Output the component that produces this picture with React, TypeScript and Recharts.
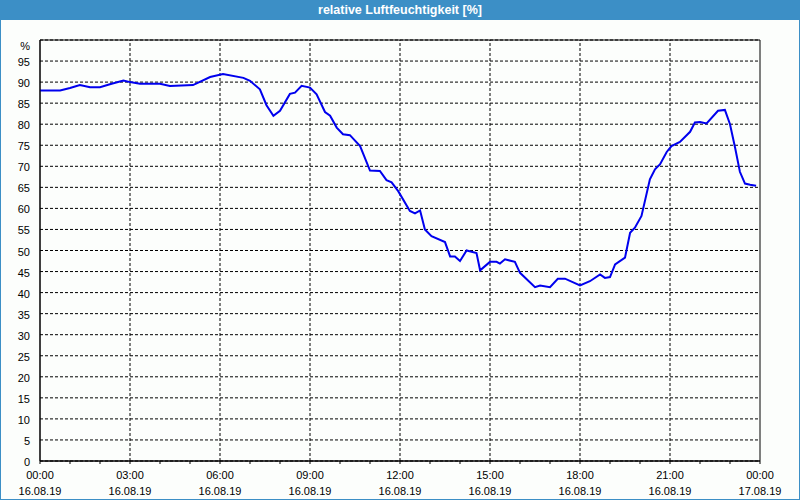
import React from "react";
import { LineChart, Line, XAxis, YAxis, CartesianGrid, ReferenceLine, ReferenceArea } from "recharts";

const title = "relative Luftfeuchtigkeit [%]";
const hours = [0, 0.67, 1.0, 1.33, 1.67, 2.0, 2.33, 2.78, 3.0, 3.33, 4.0, 4.33, 5.1, 5.67, 6.1, 6.78, 7.0, 7.33, 7.55, 7.78, 8.0, 8.33, 8.5, 8.72, 9.0, 9.22, 9.5, 9.67, 9.89, 10.1, 10.33, 10.67, 11.0, 11.33, 11.55, 11.72, 11.94, 12.33, 12.5, 12.67, 12.83, 13.05, 13.5, 13.67, 13.83, 14.0, 14.22, 14.55, 14.67, 15.0, 15.22, 15.33, 15.5, 15.83, 16.0, 16.5, 16.67, 17.0, 17.26, 17.5, 18.0, 18.33, 18.67, 18.83, 19.0, 19.17, 19.5, 19.67, 19.83, 20.05, 20.33, 20.5, 20.67, 20.89, 21.05, 21.33, 21.67, 21.83, 22.0, 22.22, 22.6, 22.83, 23.0, 23.17, 23.33, 23.5, 23.67, 23.87];
const humidity = [88, 88, 88.6, 89.3, 88.8, 88.8, 89.5, 90.4, 90, 89.6, 89.6, 89.1, 89.3, 91.2, 91.9, 91.0, 90.3, 88.3, 84.5, 82, 83.2, 87.2, 87.5, 89.1, 88.7, 87.1, 82.9, 82, 79.2, 77.6, 77.4, 74.8, 69, 68.9, 66.7, 66.2, 64.1, 59.4, 58.8, 59.5, 55, 53.4, 52, 48.6, 48.6, 47.5, 50, 49.4, 45.3, 47.3, 47.3, 46.9, 47.9, 47.3, 44.7, 41.3, 41.7, 41.3, 43.3, 43.3, 41.7, 42.7, 44.3, 43.5, 43.7, 46.7, 48.3, 54.2, 55.4, 58.2, 66.9, 69.3, 70.5, 73.4, 74.8, 75.8, 78.2, 80.4, 80.5, 80.2, 83.2, 83.4, 80, 74.4, 68.7, 65.9, 65.6, 65.4];
const hourTicks = [0, 1, 2, 3, 4, 5, 6, 7, 8, 9, 10, 11, 12, 13, 14, 15, 16, 17, 18, 19, 20, 21, 22, 23, 24];
const gridHours = [3, 6, 9, 12, 15, 18, 21];
const yTicks = [0, 5, 10, 15, 20, 25, 30, 35, 40, 45, 50, 55, 60, 65, 70, 75, 80, 85, 90, 95, 100];
const timeLabels: Record<number, string> = { 0: "00:00", 3: "03:00", 6: "06:00", 9: "09:00", 12: "12:00", 15: "15:00", 18: "18:00", 21: "21:00", 24: "00:00" };
const dateLabels: Record<number, string> = { 0: "16.08.19", 3: "16.08.19", 6: "16.08.19", 9: "16.08.19", 12: "16.08.19", 15: "16.08.19", 18: "16.08.19", 21: "16.08.19", 24: "17.08.19" };

const data = hours.map((h, i) => ({ h, v: humidity[i] }));

const FONT = "'Liberation Sans', Arial, sans-serif";

const XTick = (props: any) => {
  const { x, y, payload } = props;
  const v = payload.value;
  if (timeLabels[v] === undefined) return null;
  return (
    <g>
      <text x={x} y={y} dy={13} textAnchor="middle" fontSize={11} fontFamily={FONT} fill="#000">{timeLabels[v]}</text>
      <text x={x} y={y} dy={29} textAnchor="middle" fontSize={11} fontFamily={FONT} fill="#000">{dateLabels[v]}</text>
    </g>
  );
};

const YTick = (props: any) => {
  const { x, y, payload } = props;
  const v = payload.value;
  const label = v === 100 ? "%" : String(v);
  return (
    <text x={x} y={y} dy={v === 100 ? 10 : 5} textAnchor="end" fontSize={11} fontFamily={FONT} fill="#000">{label}</text>
  );
};

export default function App() {
  return (
    <div style={{ position: "absolute", left: 0, top: 0, width: 800, height: 500, background: "#fcfefc", overflow: "hidden" }}>
      <div style={{ position: "absolute", left: 0, top: 0, width: 800, height: 20, background: "#3c8fc6", color: "#fff", fontFamily: FONT, fontWeight: "bold", fontSize: 12.5, lineHeight: "20px", textAlign: "center" }}>
        {title}
      </div>
      <div style={{ position: "absolute", left: 0, top: 0, width: 800, height: 500, boxSizing: "border-box", border: "1px solid #3c8fc6", pointerEvents: "none", zIndex: 2 }} />
      <div style={{ position: "absolute", left: 0, top: 20 }}>
        <LineChart width={800} height={480} data={data} margin={{ top: 20, right: 40, bottom: 0, left: 0 }}>
          <CartesianGrid vertical={false} stroke="#000" strokeDasharray="3 2" />
          {gridHours.map((g) => (
            <ReferenceLine key={g} x={g} stroke="#000" strokeDasharray="3 2" ifOverflow="visible" />
          ))}
          <ReferenceArea x1={0} x2={24} y1={0} y2={100} fill="none" stroke="#000" strokeWidth={1} fillOpacity={0} />
          <XAxis dataKey="h" type="number" domain={[0, 24]} ticks={hourTicks} interval={0} height={39} tickSize={3} tickMargin={2} stroke="#000" tick={<XTick />} axisLine={{ stroke: "#000" }} tickLine={{ stroke: "#000" }} />
          <YAxis type="number" domain={[0, 100]} ticks={yTicks} interval={0} width={40} tickLine={false} tickMargin={4} axisLine={{ stroke: "#000" }} tick={<YTick />} />
          <Line type="linear" dataKey="v" stroke="#0000ee" strokeWidth={2} dot={false} isAnimationActive={false} />
        </LineChart>
      </div>
    </div>
  );
}
